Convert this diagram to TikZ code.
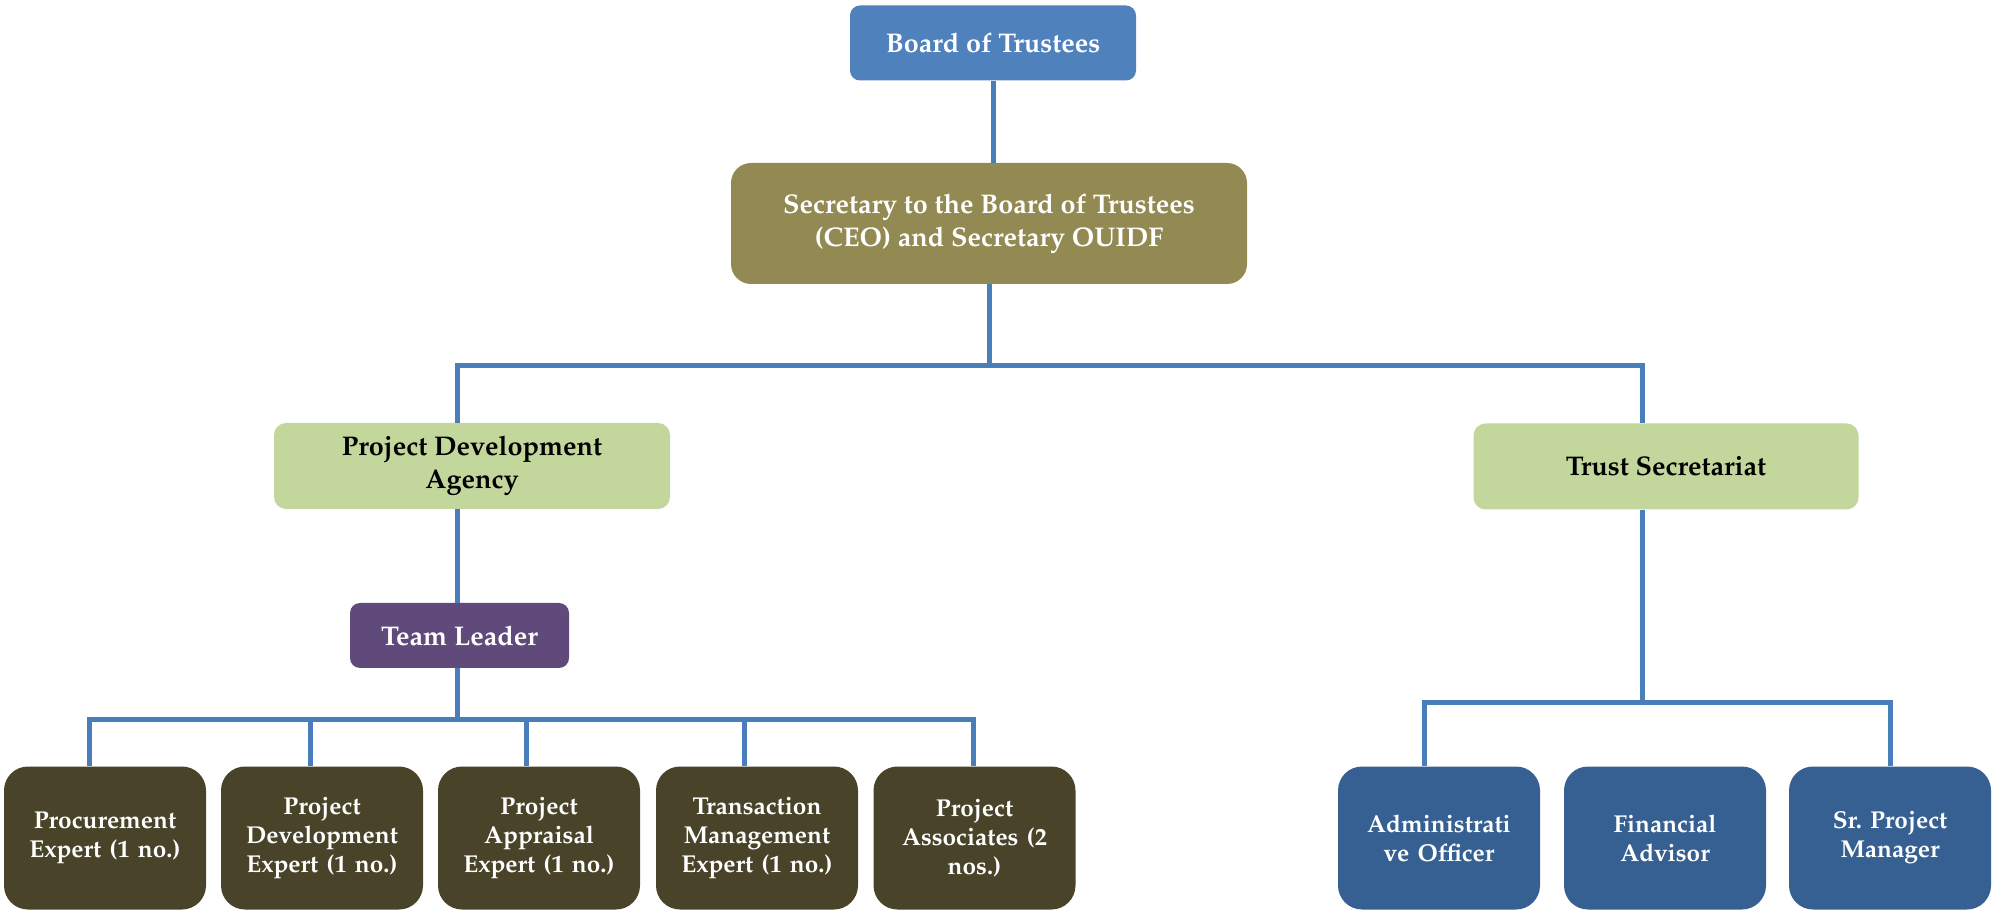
\documentclass[tikz,border=0pt]{standalone}
\usepackage[T1]{fontenc}
\usepackage{mathpazo}
\definecolor{linkblue}{HTML}{4A7EBB}
\definecolor{boardblue}{HTML}{4F81BD}
\definecolor{olive}{HTML}{938953}
\definecolor{leafgreen}{HTML}{C3D69B}
\definecolor{plum}{HTML}{604A7B}
\definecolor{bark}{HTML}{494429}
\definecolor{navy}{HTML}{366092}
\tikzset{
  unit/.style={rounded corners=#1, inner sep=2pt, align=center,
    font=\bfseries\fontsize{13.5}{16.5}\selectfont},
  conn/.style={draw=linkblue, line width=2.5pt},
  expert/.style={unit=12pt, fill=bark, text=white,
    font=\bfseries\fontsize{12.2}{14.5}\selectfont,
    minimum width=101pt, minimum height=71.5pt, text width=92pt},
  staff/.style={unit=12pt, fill=navy, text=white,
    font=\bfseries\fontsize{12.2}{14.5}\selectfont,
    minimum width=101pt, minimum height=71.5pt, text width=80pt},
}
\begin{document}
\begin{tikzpicture}[x=0.5pt, y=-0.5pt]
\useasboundingbox (0,0) rectangle (1996,913);

% top of the chart
\node[unit=5pt, fill=boardblue, text=white, minimum width=143pt, minimum height=37.5pt]
  (board) at (993,43) {Board of Trustees};
\node[unit=10pt, fill=olive, text=white, minimum width=258pt, minimum height=60.5pt]
  (sec) at (989,223.5) {Secretary to the Board of Trustees\\(CEO) and Secretary OUIDF};

% the two branches
\node[unit=6pt, fill=leafgreen, minimum width=198pt, minimum height=43pt]
  (pda) at (472,466) {Project Development\\Agency};
\node[unit=6pt, fill=leafgreen, minimum width=192.5pt, minimum height=43pt]
  (ts) at (1666,466.5) {Trust Secretariat};
\node[unit=5pt, fill=plum, text=white, minimum width=109.5pt, minimum height=32.5pt]
  (tl) at (459.5,635.5) {Team Leader};

% experts under the team leader
\node[expert] (e1) at (105,838) {Procurement\\Expert (1 no.)};
\node[expert] (e2) at (322,838) {Project\\Development\\Expert (1 no.)};
\node[expert] (e3) at (539,838) {Project\\Appraisal\\Expert (1 no.)};
\node[expert] (e4) at (757,838) {Transaction\\Management\\Expert (1 no.)};
\node[expert] (e5) at (974.5,838) {Project\\Associates (2\\nos.)};

% staff under the trust secretariat
\node[staff] (s1) at (1439,838) {Administrati\\ve Officer};
\node[staff] (s2) at (1665,838) {Financial\\Advisor};
\node[staff] (s3) at (1890,838) {Sr.\ Project\\Manager};

% bus points
\coordinate (busL) at (457,366);
\coordinate (busR) at (1642,366);
\coordinate (teamBus) at (457,719);
\coordinate (staffBus) at (1642,702);

% connectors
\draw[conn] (board.south) -- (board.south |- sec.north);
\draw[conn] (sec.south) -- (sec.south |- busL);
\draw[conn] (pda.north -| busL) -- (busL) -- (busR) -- (ts.north -| busR);
\draw[conn] (pda.south -| busL) -- (tl.north -| busL);
\draw[conn] (tl.south -| teamBus) -- (teamBus);
\draw[conn] (e1.north -| 89,0) -- (89,719) -- (973,719) -- (e5.north -| 973,0);
\draw[conn] (teamBus -| 310,0) -- (e2.north -| 310,0);
\draw[conn] (teamBus -| 526,0) -- (e3.north -| 526,0);
\draw[conn] (teamBus -| 744,0) -- (e4.north -| 744,0);
\draw[conn] (ts.south -| staffBus) -- (staffBus);
\draw[conn] (s1.north -| 1424,0) -- (1424,702) -- (1890,702) -- (s3.north -| 1890,0);
\end{tikzpicture}
\end{document}
